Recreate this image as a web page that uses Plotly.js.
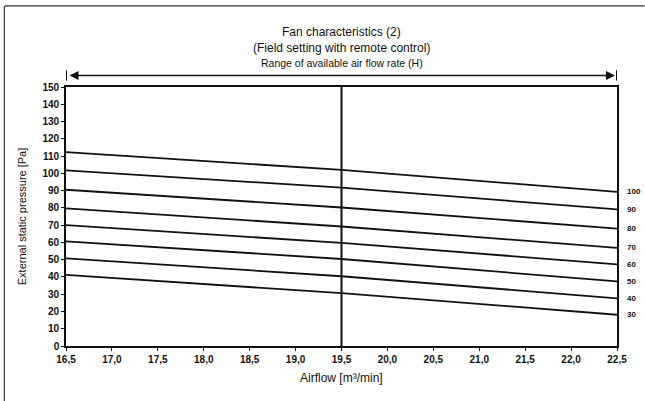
<!DOCTYPE html>
<html><head><meta charset="utf-8">
<script src="https://cdn.plot.ly/plotly-3.0.1.min.js"></script>
<style>html,body{margin:0;padding:0;background:#fff}#c{width:645px;height:401px}</style>
</head><body><div id="c"></div>
<script>
const airflow = [16.5, 19.5, 22.5];
const s100 = [112.3, 102.0, 89.3];
const s90  = [101.7, 91.7, 79.1];
const s80  = [90.5, 80.2, 68.0];
const s70  = [79.7, 69.2, 56.8];
const s60  = [70.0, 59.7, 47.3];
const s50  = [60.6, 50.4, 37.4];
const s40  = [50.8, 40.4, 27.6];
const s30  = [41.2, 30.6, 18.1];
const seriesNames = ['100','90','80','70','60','50','40','30'];
const seriesVals = [s100, s90, s80, s70, s60, s50, s40, s30];
const xTicks = [16.5,17,17.5,18,18.5,19,19.5,20,20.5,21,21.5,22,22.5];
const yTicks = [0,10,20,30,40,50,60,70,80,90,100,110,120,130,140,150];
const midLine = 19.5;

const narrow = '"Liberation Sans Narrow", "Arial Narrow", "Liberation Sans", Arial, sans-serif';
const bold = '"Liberation Sans", Arial, sans-serif';

const traces = seriesVals.map((v,i)=>({
  x: airflow, y: v, type:'scatter', mode:'lines', name: seriesNames[i],
  line:{color:'#111', width:1.8}, hoverinfo:'skip', showlegend:false
}));

const annotations = seriesVals.map((v,i)=>({
  x: airflow[airflow.length-1], y: v[v.length-1], xref:'x', yref:'y',
  text: seriesNames[i], showarrow:false, xanchor:'left', xshift:8,
  font:{family:bold, size:8, color:'#111', weight:'bold'}
}));
annotations.push(
  {x:0.5, y:1.2126, xref:'paper', yref:'paper', yanchor:'middle', text:'Fan characteristics (2)', showarrow:false,
   font:{family:narrow, size:12, color:'#111'}},
  {x:0.5, y:1.1508, xref:'paper', yref:'paper', yanchor:'middle', text:'(Field setting with remote control)', showarrow:false,
   font:{family:narrow, size:12, color:'#111'}},
  {x:0.5, y:1.0928, xref:'paper', yref:'paper', yanchor:'middle', text:'Range of available air flow rate (H)', showarrow:false,
   font:{family:narrow, size:10.5, color:'#111'}},
  {x:xTicks[xTicks.length-1], y:1.0445, xref:'x', yref:'paper', ax:xTicks[0], ay:0, axref:'x', ayref:'pixel',
   text:'', showarrow:true, arrowhead:2, arrowside:'end+start', arrowsize:1.2, arrowwidth:1.5, arrowcolor:'#111',
   standoff:2, startstandoff:2},
  {x:0.5, y:-0.1248, xref:'paper', yref:'paper', yanchor:'middle', text:'Airflow [m³/min]', showarrow:false,
   font:{family:narrow, size:12, color:'#111'}}
);

const layout = {
  width:645, height:401,
  margin:{l:66, r:28, t:87, b:55},
  paper_bgcolor:'#fff', plot_bgcolor:'#fff',
  separators:',.',
  showlegend:false,
  xaxis:{range:[16.5,22.5], tickvals:xTicks, tickformat:'.1f', showgrid:false, zeroline:false,
    showline:true, mirror:true, linecolor:'#111', linewidth:1.8, ticks:'outside', ticklen:3, tickcolor:'#111',
    tickfont:{family:bold, size:10, color:'#111', weight:'bold'}},
  yaxis:{range:[0,150], tickvals:yTicks, showgrid:false, zeroline:false,
    showline:true, mirror:true, linecolor:'#111', linewidth:1.8, ticks:'outside', ticklen:3, tickcolor:'#111',
    tickfont:{family:bold, size:10, color:'#111', weight:'bold'},
    title:{text:'External static pressure [Pa]', standoff:14, font:{family:narrow, size:11, color:'#111'}}},
  shapes:[
    {type:'line', xref:'x', yref:'paper', x0:midLine, x1:midLine, y0:0, y1:1, line:{color:'#111', width:2}},
    {type:'line', xref:'x', yref:'paper', x0:xTicks[0], x1:xTicks[0], y0:1.025, y1:1.065, line:{color:'#111', width:2}},
    {type:'line', xref:'x', yref:'paper', x0:xTicks[xTicks.length-1], x1:xTicks[xTicks.length-1], y0:1.025, y1:1.065, line:{color:'#111', width:2}},
    {type:'line', xref:'paper', yref:'paper', x0:-0.112, x1:-0.112, y0:-0.25, y1:1.313, line:{color:'#333', width:1.2}},
    {type:'line', xref:'paper', yref:'paper', x0:-0.112, x1:1.05, y0:1.313, y1:1.313, line:{color:'#333', width:1.2}}
  ],
  annotations: annotations
};
Plotly.newPlot('c', traces, layout, {staticPlot:true, displayModeBar:false});
</script></body></html>
